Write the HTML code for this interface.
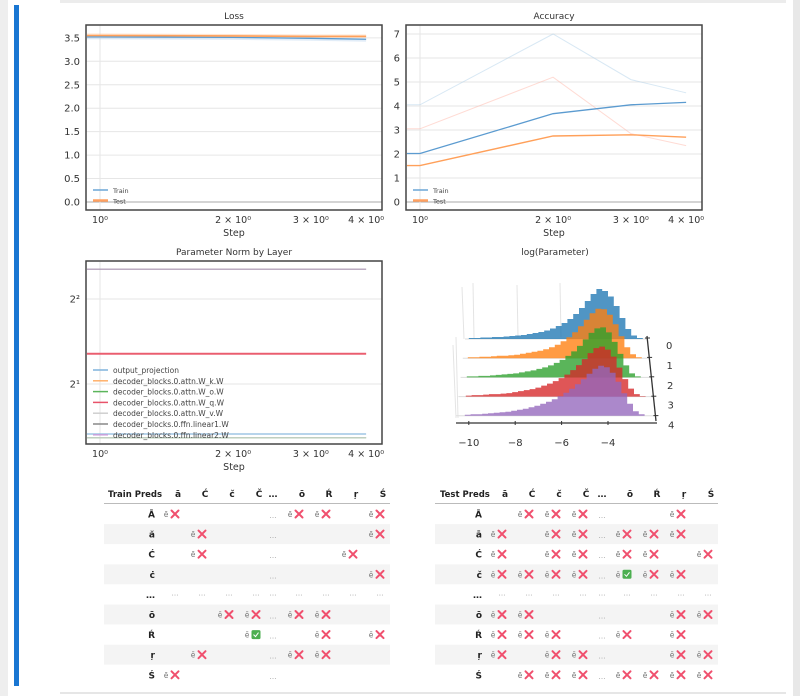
<!DOCTYPE html>
<html><head><meta charset="utf-8">
<style>
html,body{margin:0;padding:0;background:#eeeeee;}
body{width:800px;height:696px;position:relative;overflow:hidden;font-family:"DejaVu Sans","Liberation Sans","Noto Sans CJK SC",sans-serif;}
svg text{font-family:"DejaVu Sans","Liberation Sans","Noto Sans CJK SC",sans-serif;}
</style></head>
<body>
<svg id="page" width="800" height="696" viewBox="0 0 800 696" xmlns="http://www.w3.org/2000/svg" style="position:absolute;left:0;top:0">
  <rect x="8" y="0" width="785" height="696" fill="#ffffff"/>
  <rect x="60" y="0" width="726" height="3" fill="#ececec"/>
  <rect x="60" y="692" width="726" height="2" fill="#e6e6e6"/>
  <rect x="793" y="0" width="7" height="696" fill="#e8e8e8"/>
  <rect x="14" y="5" width="5" height="681" fill="#1976d2"/>
  <g id="charts"></g>
  <g id="tables"></g>
</svg>
<script>
// ---------- data ----------
const steps = [1, 2, 3, 4];
const lossTrain = [3.52, 3.51, 3.49, 3.47];
const lossTest = [3.55, 3.54, 3.53, 3.53];
const accTrain = [2.02, 3.68, 4.05, 4.15];
const accTest = [1.52, 2.75, 2.80, 2.70];
const accTrainHi = [4.05, 7.0, 5.1, 4.55];
const accTestHi = [3.05, 5.2, 2.85, 2.35];
const lossTicks = [0, 0.5, 1.0, 1.5, 2.0, 2.5, 3.0, 3.5];
const accTicks = [0, 1, 2, 3, 4, 5, 6, 7];
const xTicks = [1, 2, 3, 4];
const xTickLabels = ["10\u2070", "2 \u00d7 10\u2070", "3 \u00d7 10\u2070", "4 \u00d7 10\u2070"];
const layerNames = ["output_projection","decoder_blocks.0.attn.W_k.W","decoder_blocks.0.attn.W_o.W","decoder_blocks.0.attn.W_q.W","decoder_blocks.0.attn.W_v.W","decoder_blocks.0.ffn.linear1.W","decoder_blocks.0.ffn.linear2.W"];
const layerNorms = [1.33, 2.56, 1.29, 2.56, 1.29, 5.1, 5.1];
const layerColors = ["#7fb3dc","#ffb06a","#5bb55b","#e8536a","#cfcfcf","#888888","#c9a0dc"];
const histStart = -10;
const histBinWidth = 0.25;
const hist0 = [0.02,0.02,0.03,0.03,0.04,0.04,0.05,0.06,0.07,0.08,0.10,0.12,0.14,0.17,0.21,0.26,0.32,0.40,0.50,0.62,0.76,0.90,1.0,0.96,0.85,0.66,0.42,0.20,0.07,0.02,0,0,0];
const hist1 = [0.02,0.02,0.03,0.03,0.04,0.05,0.05,0.06,0.07,0.09,0.11,0.13,0.15,0.18,0.22,0.27,0.34,0.42,0.52,0.64,0.77,0.90,0.99,0.98,0.87,0.68,0.44,0.22,0.08,0.02,0,0,0];
const hist2 = [0.02,0.02,0.03,0.03,0.04,0.05,0.06,0.07,0.08,0.10,0.12,0.14,0.17,0.20,0.24,0.29,0.35,0.43,0.52,0.63,0.76,0.89,0.98,1.0,0.90,0.71,0.47,0.24,0.08,0.02,0,0,0];
const hist3 = [0.02,0.03,0.03,0.04,0.05,0.05,0.06,0.07,0.09,0.11,0.13,0.15,0.18,0.22,0.26,0.31,0.37,0.44,0.53,0.63,0.75,0.87,0.97,1.0,0.94,0.80,0.58,0.35,0.16,0.05,0.01,0,0];
const hist4 = [0.02,0.03,0.03,0.04,0.05,0.06,0.07,0.08,0.10,0.12,0.14,0.17,0.20,0.24,0.28,0.33,0.39,0.46,0.54,0.63,0.73,0.84,0.94,1.0,0.97,0.86,0.68,0.45,0.24,0.09,0.03,0,0];
const histTicks = [-10,-8,-6,-4];
const histLayers = ["0","1","2","3","4"];
const colHeads = ["\u0101","\u0106","\u010d","\u010c","\u2026","\u014d","\u0154","\u0157","\u015a"];
const trainRowLabels = ["\u0100","\u0103","\u0106","\u010b","\u2026","\u014d","\u0154","\u0157","\u015a"];
const trainCells = [
 ["x","","","","…","x","x","","x"],
 ["","x","","","…","","","","x"],
 ["","x","","","…","","","x",""],
 ["","","","","…","","","","x"],
 ["…","…","…","…","…","…","…","…","…"],
 ["","","x","x","…","x","x","",""],
 ["","","","v","…","","x","","x"],
 ["","x","","","…","x","x","",""],
 ["x","","","","…","","","",""]];
const testRowLabels = ["\u0100","\u0101","\u0106","\u010d","\u2026","\u014d","\u0154","\u0157","\u015a"];
const testCells = [
 ["","x","x","x","…","","","x",""],
 ["x","","x","x","…","x","x","x",""],
 ["x","","x","x","…","x","x","","x"],
 ["x","x","x","x","…","v","x","x",""],
 ["…","…","…","…","…","…","…","…","…"],
 ["x","x","","","…","","","x","x"],
 ["x","x","x","","…","x","","x",""],
 ["x","","x","x","…","","","x","x"],
 ["","x","x","x","…","x","x","x","x"]];

// ---------- helpers ----------
const NS = "http://www.w3.org/2000/svg";
function mk(tag, attrs, parent, txt){
  const e = document.createElementNS(NS, tag);
  for (const k in attrs) e.setAttribute(k, attrs[k]);
  if (txt !== undefined) e.textContent = txt;
  parent.appendChild(e);
  return e;
}
const charts = document.getElementById("charts");
const tables = document.getElementById("tables");
const K = 442;

function lineChart(opts){
  const g = mk("g", {}, charts);
  
  
  const {x0,x1,y0,y1,x1pos} = opts;
  const xs = v => x1pos + K*Math.log10(v);
  const ys = opts.ys;
  const t = mk("text", {x:(x0+x1)/2, y:y0-6, "text-anchor":"middle", "font-size":"9", fill:"#333"}, g, opts.title);
  
  
  opts.yTicks.forEach((v,i)=>{
    const y = ys(v);
    mk("line", {x1:x0, x2:x1, y1:y, y2:y, stroke: v===0&&opts.zeroLine ? "#aaaaaa" : "#e6e6e6", "stroke-width":1}, g);
    const tl = mk("text", {x:x0-6, y:y+3.5, "text-anchor":"end", "font-size":"10", fill:"#333"}, g, opts.yLabels[i]);
    
    
  });
  mk("line", {x1:xs(1), x2:xs(1), y1:y0, y2:y1, stroke:"#e6e6e6"}, g);
  xTicks.forEach((v,i)=>{
    const xl = mk("text", {x:xs(v), y:y1+13, "text-anchor":"middle", "font-size":"9.5", fill:"#333"}, g, xTickLabels[i]);
    
    
  });
  const xt = mk("text", {x:(x0+x1)/2, y:y1+26, "text-anchor":"middle", "font-size":"9.5", fill:"#333"}, g, "Step");
  
  
  opts.series.forEach(s=>{
    let d = "M" + (x0+1) + "," + ys(s.vals[0]);
    steps.forEach((st,i)=>{ d += " L" + xs(st) + "," + ys(s.vals[i]); });
    const p = mk("path", {d, fill:"none", stroke:s.color, "stroke-width":s.w, "stroke-opacity":s.op}, g);
    
    
  });
  mk("rect", {x:x0, y:y0, width:x1-x0, height:y1-y0, fill:"none", stroke:"#444", "stroke-width":1.5}, g);
  if (opts.legend){
    opts.legend.forEach((L,i)=>{
      const ly = opts.legY + i*opts.legStep;
      const ll = mk("line", {x1:x0+7, x2:x0+22, y1:ly, y2:ly, stroke:L.color, "stroke-width":L.w||1.5}, g);
      
      
      const lt = mk("text", {x:x0+27, y:ly+3, "font-size":opts.legFont, fill:"#444"}, g, L.label);
      
      
    });
  }
  return g;
}

lineChart({name:"loss-chart", title:"Loss", x0:86, x1:382, y0:25, y1:210, x1pos:100,
  ys: v => 202 - v*46.9, yTicks: lossTicks, yLabels: lossTicks.map(v=>v.toFixed(1)), zeroLine:true,
  series:[
    {name:"test-band", vals:lossTest.map(v=>v+0.01), color:"#ffbb88", w:3, op:0.4},
    {name:"train-band", vals:lossTrain.map(v=>v-0.02), color:"#9ec5e8", w:3, op:0.3},
    {name:"train-line", vals:lossTrain, color:"#5b9bd0", w:1.3, op:1},
    {name:"test-line", vals:lossTest, color:"#ffa05a", w:1.6, op:1}],
  legend:[{label:"Train", color:"#6aa6d6"},{label:"Test", color:"#ffa060", w:2.5}], legY:190, legStep:10.5, legFont:"6.5"});

lineChart({name:"accuracy-chart", title:"Accuracy", x0:406, x1:702, y0:25, y1:210, x1pos:420,
  ys: v => 202 - v*24, yTicks: accTicks, yLabels: accTicks.map(String), zeroLine:true,
  series:[
    {name:"train-upper-band", vals:accTrainHi, color:"#a8cbe6", w:1, op:0.45},
    {name:"test-upper-band", vals:accTestHi, color:"#ffb0a0", w:1, op:0.45},
    {name:"train-line", vals:accTrain, color:"#5b9bd0", w:1.3, op:1},
    {name:"test-line", vals:accTest, color:"#ffa05a", w:1.4, op:1}],
  legend:[{label:"Train", color:"#6aa6d6"},{label:"Test", color:"#ffa060", w:2.5}], legY:190, legStep:10.5, legFont:"6.5"});

lineChart({name:"parameter-norm-chart", title:"Parameter Norm by Layer", x0:86, x1:382, y0:261, y1:444, x1pos:100,
  ys: v => 384 - (Math.log2(v)-1)*85, yTicks:[2,4], yLabels:["2\u00b9","2\u00b2"], zeroLine:false,
  series: layerNames.map((n,i)=>({name:"norm-line-"+i, vals:steps.map(()=>layerNorms[i]), color:layerColors[i], w: i===3?2:1.2, op: i===6?0.5:0.9})),
  legend: layerNames.map((n,i)=>({label:n, color:layerColors[i]})), legY:370, legStep:10.8, legFont:"7.5"});

// ---------- 3D histogram ----------
(function(){
  const g = mk("g", {}, charts);
  
  
  const tt = mk("text", {x:555, y:255, "text-anchor":"middle", "font-size":"9", fill:"#333"}, g, "log(Parameter)");
  
  
  [[462,287,464,339],[473,283,474,338],[517,285,518,337],[560,283,561,337]].forEach(l=>{
    mk("line",{x1:l[0],y1:l[1],x2:l[2],y2:l[3],stroke:"#e4e4e4"},g);
  });
  [[453,345,456,418],[456,337,458,418]].forEach(l=>mk("line",{x1:l[0],y1:l[1],x2:l[2],y2:l[3],stroke:"#e4e4e4"},g));
  const hists = [hist0,hist1,hist2,hist3,hist4];
  const colors = ["#1f77b4","#ff7f0e","#2ca02c","#d62728","#9467bd"];
  hists.forEach((h,li)=>{
    const yb = 339 + li*19.2;
    const shift = -li*1.0;
    const xs = v => 608 + (v+4)*23.2 + shift;
    mk("line",{x1:465-li*2.2,x2:648+li*1.5,y1:yb,y2:yb,stroke:"#dddddd"},g);
    let d = "M" + xs(histStart) + "," + yb;
    h.forEach((c,i)=>{
      const b = histStart + i*histBinWidth;
      const yy = yb - c*50;
      d += " L" + xs(b) + "," + yy + " L" + xs(b+histBinWidth) + "," + yy;
    });
    d += " L" + xs(histStart + h.length*histBinWidth) + "," + yb + " Z";
    const p = mk("path",{d, fill:colors[li], "fill-opacity":0.78, stroke:"none"},g);
    
    
  });
  mk("line",{x1:456,x2:657,y1:423,y2:423,stroke:"#333","stroke-width":1.3},g);
  histTicks.forEach(v=>{
    const x = 608 + (v+4)*23.2;
    mk("line",{x1:x,x2:x,y1:421,y2:425,stroke:"#333"},g);
    const tl = mk("text",{x:x,y:446,"text-anchor":"middle","font-size":"10",fill:"#333"},g,"\u2212"+Math.abs(v));
    
    
  });
  mk("line",{x1:647,y1:336,x2:656,y2:421,stroke:"#333","stroke-width":1.3},g);
  histLayers.forEach((l,i)=>{
    const y = 338 + i*19.4;
    const x = 647 + i*2.1;
    mk("line",{x1:x-2,x2:x+3,y1:y,y2:y,stroke:"#333"},g);
    const zl = mk("text",{x:666+i*0.5,y:y+11+i*0.5,"font-size":"10",fill:"#333"},g,l);
    
    
  });
})();

// ---------- tables ----------
function table(name, x0, x1, title, titleX, labelX, colX, rowLabels, cells){
  const g = mk("g", {}, tables);
  
  
  const ht = mk("text",{x:titleX,y:497,"font-size":"8.5","font-weight":"bold",fill:"#222"},g,title);
  
  
  colHeads.forEach((c,i)=>{
    const t = mk("text",{x:colX[i]+(c==="\u2026"?0:3),y:497,"font-size":"9","font-weight":"bold","text-anchor":"middle",fill:"#222"},g,c);
    
    
  });
  mk("line",{x1:x0,x2:x1,y1:503.5,y2:503.5,stroke:"#bbbbbb"},g);
  rowLabels.forEach((lab,r)=>{
    const yt = 504 + r*20.1;
    if (r%2===1) mk("rect",{x:x0,y:yt,width:x1-x0,height:20,fill:"#f4f4f4"},g);
    const cy = yt + 10;
    const rl = mk("text",{x:labelX,y:cy+3.5,"font-size":"9","font-weight":"bold","text-anchor":"end",fill:"#222"},g,lab);
    
    
    cells[r].forEach((c,ci)=>{
      const cx = colX[ci];
      if (c==="…"){
        mk("text",{x:cx,y:cy+(r===4?1:4),"font-size":"7","text-anchor":"middle",fill:"#999"},g,"\u2026");
      } else if (c==="x" || c==="v"){
        const e = mk("text",{x:cx-9,y:cy+3,"font-size":"7.5","text-anchor":"middle",fill:"#777"},g,"\u0113");
        
        
        if (c==="x"){
          const m = mk("path",{d:`M${cx-3.5},${cy-3.5} L${cx+3.5},${cy+3.5} M${cx+3.5},${cy-3.5} L${cx-3.5},${cy+3.5}`,stroke:"#f0506e","stroke-width":2,"stroke-linecap":"round"},g);
          
          
        } else {
          const b = mk("rect",{x:cx-4.5,y:cy-4.5,width:9,height:9,rx:1.5,fill:"#4caf50"},g);
          
          
          mk("path",{d:`M${cx-2.5},${cy} L${cx-0.5},${cy+2} L${cx+2.5},${cy-2}`,stroke:"#fff","stroke-width":1,fill:"none"},g);
        }
      }
    });
  });
}
table("train-preds-table",104,390,"Train Preds",108,155,[175,202,229,256,273,299,326,353,380],trainRowLabels,trainCells);
table("test-preds-table",435,718,"Test Preds",440,482,[502,529,556,583,602,627,654,681,708],testRowLabels,testCells);
</script>
</body></html>
